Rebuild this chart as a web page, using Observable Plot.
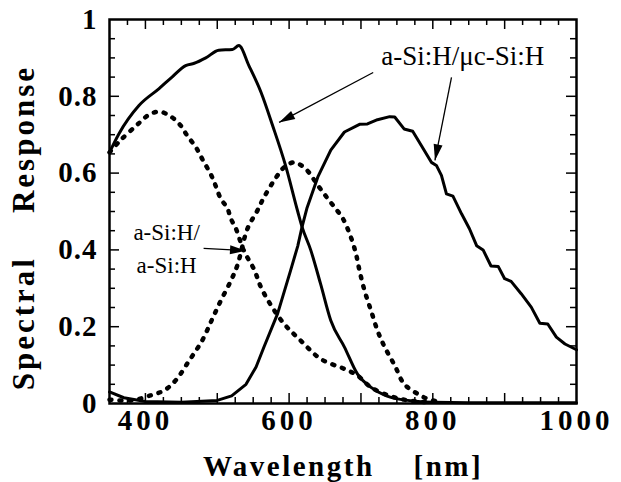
<!DOCTYPE html>
<html><head><meta charset="utf-8">
<script src="https://cdn.jsdelivr.net/npm/d3@7"></script>
<script src="https://cdn.jsdelivr.net/npm/@observablehq/plot@0.6"></script>
<style>
body{margin:0;background:#fff;}
svg text{white-space:pre;}
g[aria-label="x-axis tick label"] text{letter-spacing:4px;}
g[aria-label="y-axis tick label"] text{letter-spacing:1px;}
g[aria-label="x-axis label"] text{letter-spacing:2.5px;}
g[aria-label="y-axis label"] text{letter-spacing:3px;font-size:31px;}
</style></head><body><div id="chart"></div>
<script>
// a-Si:H/μc-Si:H tandem — top cell (a-Si:H), solid
const wlTopMicro = [350,363,391,419,437,456,468,484,502,521,530,544,561,577,595,612,618,630,644,658,677,695,714,733,751,775,800,850,1000];
const respTopMicro = [0.654,0.702,0.776,0.82,0.85,0.88,0.886,0.90,0.92,0.922,0.932,0.88,0.81,0.724,0.62,0.50,0.46,0.40,0.31,0.216,0.147,0.077,0.042,0.022,0.012,0.006,0.003,0.002,0.002];
// a-Si:H/μc-Si:H tandem — bottom cell (μc-Si:H), solid
const wlBotMicro = [350,370,400,450,500,520,540,554,565,584,602,612,618,625,640,658,677,698,709,723,740,747,760,772,784,798,805,812,819,828,840,851,861,870,881,891,900,909,923,937,949,960,972,984,1000];
const respBotMicro = [0.03,0.015,0.005,0.003,0.008,0.02,0.05,0.095,0.147,0.234,0.346,0.41,0.46,0.51,0.59,0.66,0.707,0.727,0.728,0.739,0.747,0.746,0.715,0.709,0.672,0.628,0.62,0.594,0.546,0.54,0.494,0.455,0.411,0.40,0.358,0.357,0.325,0.318,0.286,0.251,0.209,0.207,0.173,0.155,0.14];
// a-Si:H/a-Si:H tandem — top cell, dotted
const wlTopAmor = [350,365,391,405,419,435,449,458,470,479,493,505,514,519,526,537,551,563,591,616,644,677,695,714,740,760,780,800];
const respTopAmor = [0.654,0.685,0.73,0.752,0.76,0.748,0.724,0.698,0.668,0.637,0.589,0.533,0.509,0.481,0.455,0.398,0.35,0.294,0.212,0.164,0.116,0.09,0.073,0.042,0.02,0.01,0.005,0.003];
// a-Si:H/a-Si:H tandem — bottom cell, dotted
const wlBotAmor = [350,380,407,426,442,461,479,493,505,519,528,542,556,565,582,593,607,623,640,654,665,675,686,693,698,705,714,723,733,747,760,779,793,810];
const respBotAmor = [0.01,0.008,0.021,0.034,0.06,0.112,0.164,0.22,0.268,0.32,0.36,0.455,0.503,0.537,0.589,0.615,0.628,0.611,0.568,0.533,0.507,0.481,0.433,0.39,0.346,0.294,0.242,0.19,0.147,0.099,0.051,0.025,0.012,0.004];

// axis ticks
const xTickLabels = [400,600,800,1000];
const yTickLabels = [0,0.2,0.4,0.6,0.8,1];
const xMinorTicks = d3.range(375,1000,25);
const yMinorTicks = d3.range(1,20).map(i => i/20);

// annotations
const annText = ["a-Si:H/μc-Si:H","a-Si:H/","a-Si:H"];
const annWl = [955,429.5,429.5];
const annResp = [0.904,0.444,0.360];
const arrowFromWl = [717,826,481];
const arrowFromResp = [0.862,0.849,0.404];
const arrowToWl = [586,803,540];
const arrowToResp = [0.732,0.633,0.398];

const toRows = (xs, ys) => xs.map((x,i) => ({x, y: ys[i]}));
const W = 621, H = 482, mL = 109, mR = 45, mT = 19, mB = 79;
const pxPerX = (W-mL-mR)/650, pxPerY = (H-mT-mB);
const arrows = arrowFromWl.map((x1,i) => {
  const dx = (arrowToWl[i]-x1)*pxPerX, dy = -(arrowToResp[i]-arrowFromResp[i])*pxPerY;
  return {x1, y1: arrowFromResp[i], x2: arrowToWl[i], y2: arrowToResp[i], angle: Math.atan2(dx,-dy)*180/Math.PI};
});
const head = {draw(ctx){ ctx.moveTo(0,0); ctx.lineTo(4.5,16); ctx.lineTo(-4.5,16); ctx.closePath(); }};
const isMajor = (v, step) => Math.abs(v/step - Math.round(v/step)) < 1e-6;
const tx = d => isMajor(d,100) ? 10/pxPerY : 6/pxPerY;
const ty = d => isMajor(d,0.2) ? 10/pxPerX : 6/pxPerX;

const solid = {stroke:"black", strokeWidth:3};
const dotted = {stroke:"black", strokeWidth:4.5, strokeDasharray:"2 8", strokeLinecap:"round", curve:"catmull-rom"};

const chart = Plot.plot({
  width: W, height: H,
  marginLeft: mL, marginRight: mR, marginTop: mT, marginBottom: mB,
  style: {fontFamily:"'Liberation Serif','Times New Roman',serif", fontSize:"29px", fontWeight:"bold", color:"black", background:"white", overflow:"visible"},
  x: {domain:[350,1000], ticks: xTickLabels, tickSize:0, tickPadding:6, tickFormat: d => String(d), label:"Wavelength    [nm]", labelAnchor:"center", labelOffset:72, labelArrow:"none"},
  y: {domain:[0,1], ticks: yTickLabels, tickSize:0, tickPadding:12, tickFormat: d => String(d), label:"Spectral    Response   ", labelAnchor:"center", labelOffset:98, labelArrow:"none"},
  marks: [
    Plot.ruleX(xMinorTicks, {x: d=>d, y1: 0, y2: tx, stroke:"black", strokeWidth:1.5}),
    Plot.ruleX(xMinorTicks, {x: d=>d, y1: 1, y2: d => 1 - tx(d), stroke:"black", strokeWidth:1.5}),
    Plot.ruleY(yMinorTicks, {y: d=>d, x1: 350, x2: d => 350 + ty(d), stroke:"black", strokeWidth:1.5}),
    Plot.ruleY(yMinorTicks, {y: d=>d, x1: 1000, x2: d => 1000 - ty(d), stroke:"black", strokeWidth:1.5}),
    Plot.line(toRows(wlTopAmor, respTopAmor), {x:"x", y:"y", ...dotted}),
    Plot.line(toRows(wlBotAmor, respBotAmor), {x:"x", y:"y", ...dotted}),
    Plot.line(toRows(wlTopMicro, respTopMicro), {x:"x", y:"y", ...solid, curve:"monotone-x"}),
    Plot.line(toRows(wlBotMicro, respBotMicro), {x:"x", y:"y", ...solid, curve:"linear"}),
    Plot.link(arrows, {x1:"x1", y1:"y1", x2:"x2", y2:"y2", stroke:"black", strokeWidth:1.3}),
    Plot.dot(arrows, {x:"x2", y:"y2", r:5, symbol: head, rotate:"angle", fill:"black", stroke:"none"}),
    Plot.text([0], {x: () => annWl[0], y: () => annResp[0], text: () => annText[0], textAnchor:"end", fontWeight:"normal", fontSize:27}),
    Plot.text([1,2], {x: i => annWl[i], y: i => annResp[i], text: i => annText[i], textAnchor:"middle", fontWeight:"normal", fontSize:23}),
    Plot.frame({stroke:"black", strokeWidth:2.5})
  ]
});
document.getElementById("chart").appendChild(chart);
</script></body></html>
